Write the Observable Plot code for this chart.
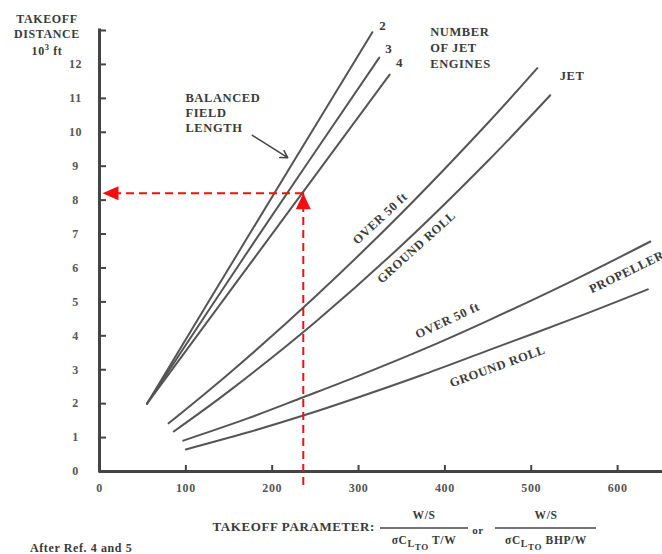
<!DOCTYPE html>
<html><head><meta charset="utf-8">
<script src="https://cdn.jsdelivr.net/npm/d3@7"></script>
<script src="https://cdn.jsdelivr.net/npm/@observablehq/plot@0.6"></script>
<style>
html,body{margin:0;padding:0;background:#fff;overflow:hidden;}
</style></head><body><div id="chart"></div>
<script>
// ---- axis ticks ----
const xTickMarks = [100, 200, 300, 400, 500, 600];
const xTickLabels = [0, 100, 200, 300, 400, 500, 600];
const yTickLabels = [0, 1, 2, 3, 4, 5, 6, 7, 8, 9, 10, 11, 12];
const yTickMarks = [1, 2, 3, 4, 5, 6, 7, 8, 9, 10, 11, 12, 13];

// ---- balanced field length, jet engines: [takeoff parameter, distance (10^3 ft)] ----
const bfl2 = [[55, 2.0], [169, 6.8], [316, 12.95]];
const bfl3 = [[55, 2.0], [180, 6.8], [324, 12.2]];
const bfl4 = [[55, 2.0], [194, 6.8], [336, 11.7]];

// ---- jet ----
const jetOver50 = [[80, 1.42], [150, 2.89], [250, 5.16], [350, 7.62], [450, 10.28], [507, 11.89]];
const jetGround = [[86, 1.18], [150, 2.37], [250, 4.41], [350, 6.67], [450, 9.16], [522, 11.09]];

// ---- propeller ----
const propOver50 = [[97, 0.91], [170, 1.55], [236, 2.19], [300, 2.82], [372, 3.57], [450, 4.45], [550, 5.65], [638, 6.78]];
const propGround = [[100, 0.65], [170, 1.14], [236, 1.65], [300, 2.19], [372, 2.83], [450, 3.57], [550, 4.52], [635, 5.37]];

// ---- red read-off example ----
const readX = [236];
const readY = [8.2];

// ---- labels ----
const plainLabels = [
  {text: "BALANCED", x: 99.5, y: 11.0},
  {text: "FIELD", x: 99.5, y: 10.56},
  {text: "LENGTH", x: 99.5, y: 10.12},
  {text: "NUMBER", x: 383, y: 12.95},
  {text: "OF JET", x: 383, y: 12.48},
  {text: "ENGINES", x: 383, y: 12.0},
  {text: "JET", x: 533, y: 11.65}
];
const engineLabels = [
  {text: "2", x: 328, y: 13.13},
  {text: "3", x: 335, y: 12.45},
  {text: "4", x: 347.5, y: 12.04}
];
const curveLabels = [
  {text: "OVER 50 ft", x: 325, y: 7.46, angle: -43},
  {text: "GROUND ROLL", x: 367, y: 6.61, angle: -42},
  {text: "OVER 50 ft", x: 403, y: 4.45, angle: -25},
  {text: "GROUND ROLL", x: 461, y: 3.10, angle: -20}
];
const edgeLabels = [
  {text: "PROPELLER", x: 568, y: 5.35, angle: -26}
];
const bflArrow = [{x1: 177, y1: 9.91, x2: 218, y2: 9.25}];

const series = [
  ["bfl2", bfl2], ["bfl3", bfl3], ["bfl4", bfl4],
  ["jetOver50", jetOver50], ["jetGround", jetGround],
  ["propOver50", propOver50], ["propGround", propGround]
];
const rows = series.flatMap(([name, pts]) => pts.map(([x, y]) => ({name, x, y})));

const INK = "#3a3a3a";
const LINE = "#555";
const RED = "#f01010";
const FONT = "'Liberation Serif', 'DejaVu Serif', serif";

const upTri = {draw(ctx) { ctx.moveTo(0, 0); ctx.lineTo(-7.5, 16); ctx.lineTo(7.5, 16); ctx.closePath(); }};
const leftTri = {draw(ctx) { ctx.moveTo(0, 0); ctx.lineTo(16, -7); ctx.lineTo(16, 7); ctx.closePath(); }};

const W = 662, H = 554, ML = 99, MR = 0, MT = 30, MB = 83;
const read = readX.map((x, i) => ({x, y: readY[i]}));

const chart = Plot.plot({
  width: W, height: H,
  marginLeft: ML, marginRight: MR, marginTop: MT, marginBottom: MB,
  x: {domain: [0, 652]},
  y: {domain: [0, 13]},
  style: {fontFamily: FONT, fontWeight: "bold", fontSize: "12.5px", letterSpacing: "0.6px", color: INK, overflow: "hidden", background: "#fff"},
  marks: [
    Plot.axisX(xTickLabels, {tickSize: 0, tickPadding: 12, fontSize: 12, fill: "#555"}),
    Plot.axisY(yTickLabels, {tickSize: 0, tickPadding: 24, textAnchor: "middle", fontSize: 12, fill: "#555"}),
    Plot.tickX(xTickMarks, {x: d => d, insetTop: (H - MT - MB) - 6, stroke: "#444", strokeWidth: 2}),
    Plot.tickY(yTickMarks, {y: d => d, insetRight: (W - ML - MR) - 7, stroke: "#444", strokeWidth: 2}),
    Plot.ruleY([0], {stroke: "#444", strokeWidth: 3}),
    Plot.ruleX([0], {stroke: "#444", strokeWidth: 3, strokeLinecap: "square"}),
    Plot.line(rows, {x: "x", y: "y", z: "name", stroke: LINE, strokeWidth: 2, curve: "catmull-rom"}),
    // read-off example
    Plot.ruleX(read, {x: "x", y1: 0, y2: "y", insetTop: 14, stroke: RED, strokeWidth: 2, strokeDasharray: "8,5"}),
    Plot.ruleY(read, {y: "y", x1: 0, x2: "x", insetLeft: 14, stroke: RED, strokeWidth: 2, strokeDasharray: "8,5"}),
    Plot.dot(read, {x: "x", y: "y", symbol: upTri, fill: RED, stroke: null}),
    Plot.dot(read, {x: 0, y: "y", dx: 3, symbol: leftTri, fill: RED, stroke: null}),
    // annotations
    Plot.text(plainLabels, {x: "x", y: "y", text: "text", textAnchor: "start", fill: INK, fontSize: 12.5}),
    Plot.text(engineLabels, {x: "x", y: "y", text: "text", fill: INK, fontSize: 13}),
    Plot.text(curveLabels, {x: "x", y: "y", text: "text", rotate: "angle", textAnchor: "middle", fill: INK, fontSize: 12.5}),
    Plot.text(edgeLabels, {x: "x", y: "y", text: "text", rotate: "angle", textAnchor: "start", fill: INK, fontSize: 12.5}),
    Plot.arrow(bflArrow, {x1: "x1", y1: "y1", x2: "x2", y2: "y2", stroke: "#444", strokeWidth: 1.5, headLength: 8})
  ]
});

document.getElementById("chart").appendChild(chart);

// ---- texts outside the frame ----
const svg = d3.select(chart);
const g = svg.append("g").attr("font-family", FONT).attr("font-weight", "bold").attr("fill", INK).attr("font-size", 12).attr("text-anchor", "start");
[["TAKEOFF", 19], ["DISTANCE", 34]].forEach(([t, y]) =>
  g.append("text").attr("x", 47).attr("y", y).attr("text-anchor", "middle").attr("dominant-baseline", "central").text(t));
const u = g.append("text").attr("x", 47).attr("y", 51).attr("text-anchor", "middle").attr("dominant-baseline", "central");
u.append("tspan").text("10");
u.append("tspan").attr("dy", -4).attr("font-size", 8.5).text("3");
u.append("tspan").attr("dy", 4).text(" ft");

g.append("text").attr("x", 375).attr("y", 526).attr("text-anchor", "end").attr("dominant-baseline", "central").attr("font-size", 13).text("TAKEOFF PARAMETER:");

function fraction(cx, x1, x2, tail) {
  g.append("line").attr("x1", x1).attr("x2", x2).attr("y1", 528).attr("y2", 528).attr("stroke", "#444").attr("stroke-width", 1.3);
  g.append("text").attr("x", cx).attr("y", 515).attr("text-anchor", "middle").attr("dominant-baseline", "central").attr("font-size", 11.5).text("W/S");
  const t = g.append("text").attr("x", cx).attr("y", 540).attr("text-anchor", "middle").attr("dominant-baseline", "central").attr("font-size", 11.5);
  t.append("tspan").text("\u03C3C");
  t.append("tspan").attr("dy", 3).attr("font-size", 10).text("L");
  t.append("tspan").attr("dy", 4).attr("font-size", 9).text("TO");
  t.append("tspan").attr("dy", -7).text(" " + tail);
}
fraction(424, 380, 468, "T/W");
g.append("text").attr("x", 478).attr("y", 530).attr("text-anchor", "middle").attr("dominant-baseline", "central").attr("font-size", 11).text("or");
fraction(546, 495, 596, "BHP/W");

g.append("text").attr("x", 30).attr("y", 548).attr("text-anchor", "start").attr("dominant-baseline", "central").attr("font-size", 12).text("After Ref. 4 and 5");
</script></body></html>
